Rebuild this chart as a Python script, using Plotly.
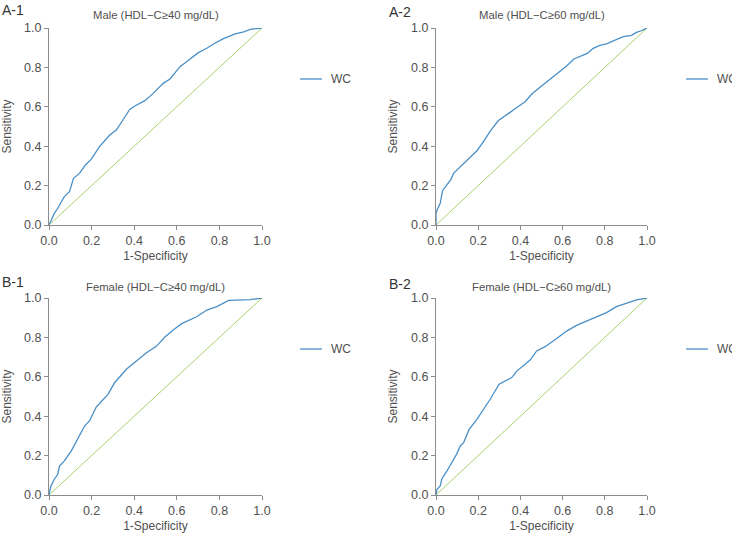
import plotly.graph_objects as go

# ---- data ----
a1_fpr = [0, 0.025, 0.041, 0.049, 0.072, 0.096, 0.115, 0.143, 0.171, 0.198, 0.237, 0.285, 0.316, 0.347, 0.379,
          0.403, 0.45, 0.489, 0.536, 0.568, 0.615, 0.646, 0.701, 0.741, 0.772, 0.819, 0.874, 0.914, 0.945, 1.0]
a1_tpr = [0, 0.059, 0.085, 0.10, 0.144, 0.169, 0.237, 0.262, 0.305, 0.333, 0.398, 0.457, 0.482, 0.533, 0.587,
          0.604, 0.631, 0.668, 0.719, 0.741, 0.804, 0.829, 0.875, 0.897, 0.919, 0.946, 0.970, 0.980, 0.993, 1.0]

a2_fpr = [0, 0, 0.005, 0.02, 0.031, 0.052, 0.071, 0.083, 0.115, 0.154, 0.194, 0.225, 0.257, 0.296, 0.335, 0.383,
          0.422, 0.454, 0.493, 0.556, 0.595, 0.619, 0.654, 0.69, 0.717, 0.745, 0.776, 0.808, 0.855, 0.887, 0.926,
          0.95, 0.973, 1.0]
a2_tpr = [0, 0.059, 0.076, 0.11, 0.174, 0.203, 0.232, 0.262, 0.296, 0.333, 0.377, 0.423, 0.477, 0.53, 0.558, 0.596,
          0.626, 0.665, 0.699, 0.753, 0.782, 0.807, 0.843, 0.86, 0.871, 0.897, 0.912, 0.919, 0.942, 0.956, 0.963,
          0.978, 0.986, 1.0]

b1_fpr = [0, 0.009, 0.025, 0.041, 0.049, 0.072, 0.104, 0.135, 0.167, 0.19, 0.222, 0.277, 0.308, 0.363, 0.41,
          0.458, 0.505, 0.544, 0.583, 0.623, 0.693, 0.741, 0.788, 0.843, 0.945, 1.0]
b1_tpr = [0, 0.046, 0.08, 0.105, 0.147, 0.173, 0.223, 0.283, 0.35, 0.376, 0.447, 0.511, 0.57, 0.638, 0.68,
          0.722, 0.756, 0.802, 0.838, 0.87, 0.905, 0.939, 0.956, 0.988, 0.992, 1.0]

b2_fpr = [0, 0.005, 0.02, 0.028, 0.052, 0.076, 0.099, 0.115, 0.131, 0.157, 0.194, 0.233, 0.257, 0.299, 0.328,
          0.359, 0.383, 0.406, 0.446, 0.477, 0.517, 0.572, 0.619, 0.666, 0.713, 0.761, 0.808, 0.855, 0.902, 0.95, 1.0]
b2_tpr = [0, 0.029, 0.046, 0.083, 0.122, 0.164, 0.21, 0.249, 0.266, 0.333, 0.384, 0.448, 0.486, 0.562, 0.579,
          0.596, 0.629, 0.65, 0.685, 0.731, 0.753, 0.794, 0.832, 0.861, 0.883, 0.905, 0.926, 0.956, 0.973, 0.99, 1.0]

ref_line = [0, 1]
tick_vals = [0, 0.2, 0.4, 0.6, 0.8, 1.0]
tick_text = ["0.0", "0.2", "0.4", "0.6", "0.8", "1.0"]
series_name = "WC"

panels = [
    ("A-1", "Male (HDL\u2212C\u226540 mg/dL)", a1_fpr, a1_tpr),
    ("A-2", "Male (HDL\u2212C\u226560 mg/dL)", a2_fpr, a2_tpr),
    ("B-1", "Female (HDL\u2212C\u226540 mg/dL)", b1_fpr, b1_tpr),
    ("B-2", "Female (HDL\u2212C\u226560 mg/dL)", b2_fpr, b2_tpr),
]

W, H = 732, 533
# pixel boxes of plot areas: (x0, x1, ytop, ybottom)
boxes = [(49, 262, 28, 225), (436, 647, 28, 225), (49, 262, 298, 495), (436, 647, 298, 495)]
label_pos = [(0, 10), (387, 12), (0, 282), (387, 284)]
title_y = [15, 15, 287, 287]
legend_pos = [(300, 79), (686, 79), (300, 349), (686, 349)]  # left end of legend key line, centre y

BLUE = "#4a8fc6"
GREEN = "#a8d26a"
AXIS = "#8c8c8c"
TXT = "#505050"
FONT = "Liberation Sans, Arial, sans-serif"

fig = go.Figure()
layout = dict(width=W, height=H, autosize=False, margin=dict(l=0, r=0, t=0, b=0),
              paper_bgcolor="white", plot_bgcolor="white", showlegend=False,
              font=dict(family=FONT, color=TXT, size=11), annotations=[], shapes=[])

for i, (lab, title, fx, ty) in enumerate(panels):
    n = "" if i == 0 else str(i + 1)
    x0, x1, yt, yb = boxes[i]
    xd = [x0 / W, x1 / W]
    yd = [1 - yb / H, 1 - yt / H]
    fig.add_trace(go.Scatter(x=ref_line, y=ref_line, mode="lines", line=dict(color=GREEN, width=1),
                             xaxis="x" + n, yaxis="y" + n, hoverinfo="skip"))
    fig.add_trace(go.Scatter(x=fx, y=ty, mode="lines", name=series_name, line=dict(color=BLUE, width=1.3),
                             xaxis="x" + n, yaxis="y" + n))
    axcommon = dict(range=[0, 1], tickvals=tick_vals, ticktext=tick_text, showgrid=False, zeroline=False,
                    showline=True, linecolor=AXIS, linewidth=1.3, ticks="outside", ticklen=4, tickcolor=AXIS,
                    tickfont=dict(size=12.5, color=TXT, family=FONT), automargin=False)
    layout["xaxis" + n] = dict(axcommon, domain=xd, anchor="y" + n,
                               title=dict(text="1-Specificity", font=dict(size=12, color=TXT), standoff=4))
    layout["yaxis" + n] = dict(axcommon, domain=yd, anchor="x" + n,
                               title=dict(text="Sensitivity", font=dict(size=12, color=TXT), standoff=10))
    # legend key (line + label); the right-hand ones run past the page edge as in the reference
    lx, ly = legend_pos[i]
    layout["shapes"].append(dict(type="line", xref="paper", yref="paper", x0=lx / W, x1=(lx + 22) / W,
                                 y0=1 - ly / H, y1=1 - ly / H, line=dict(color=BLUE, width=1.3)))
    layout["annotations"].append(dict(text=series_name, x=(lx + 29) / W, y=1 - ly / H, xref="paper",
                                      yref="paper", xanchor="left", yanchor="middle", showarrow=False,
                                      font=dict(size=12, color=TXT)))
    layout["annotations"].append(dict(text=title, x=(x0 + x1) / 2 / W, y=1 - title_y[i] / H, xref="paper",
                                      yref="paper", xanchor="center", yanchor="middle", showarrow=False,
                                      font=dict(size=11.3, color=TXT)))
    px, py = label_pos[i]
    layout["annotations"].append(dict(text=lab, x=px / W, y=1 - py / H, xref="paper", yref="paper",
                                      xanchor="left", yanchor="middle", showarrow=False,
                                      font=dict(size=14, color="#333333")))

fig.update_layout(**layout)
fig.write_html("out.html")
